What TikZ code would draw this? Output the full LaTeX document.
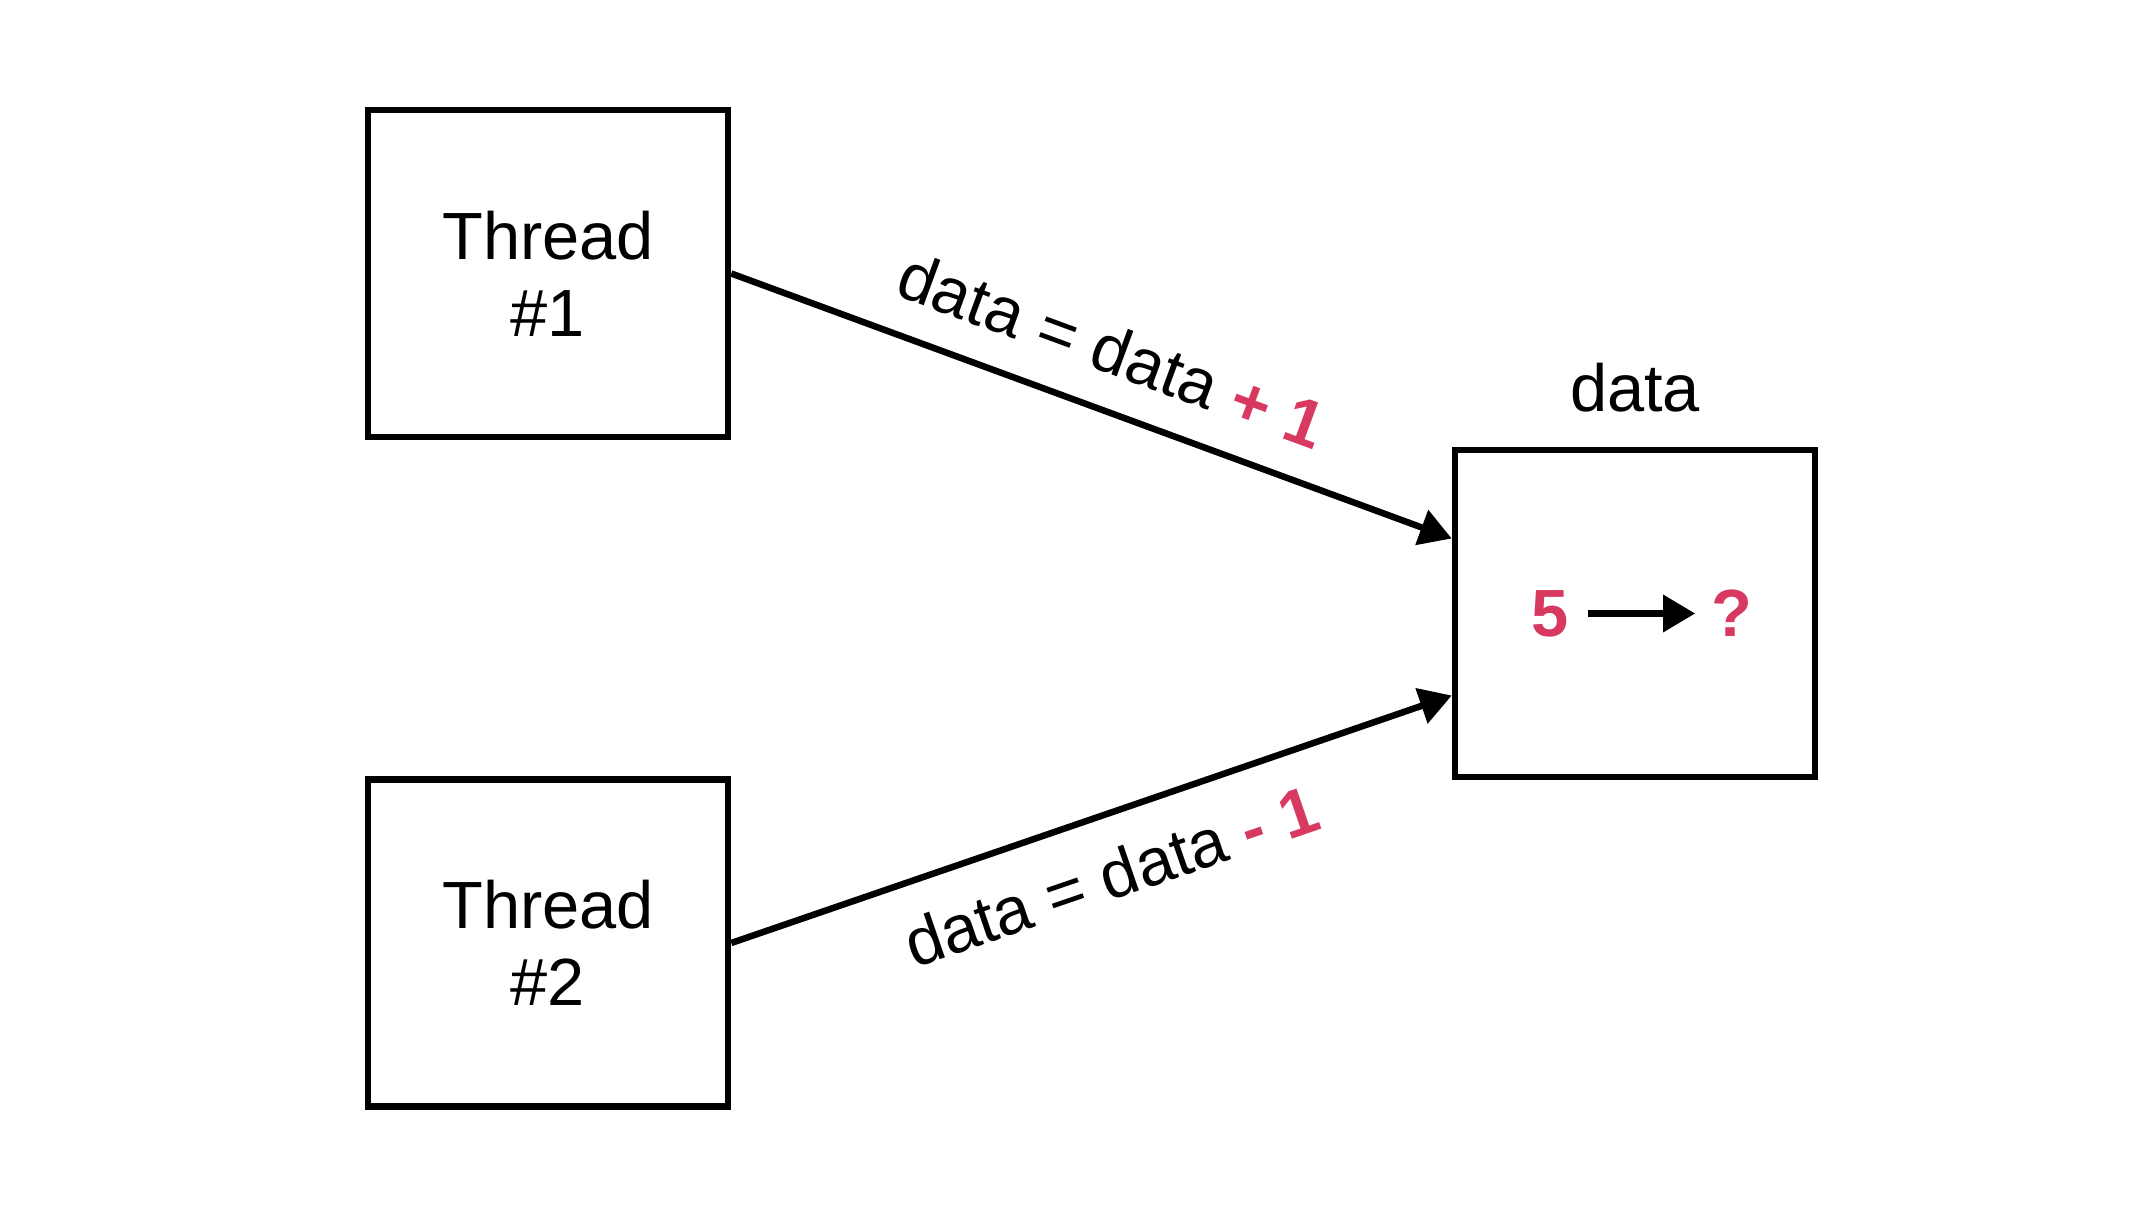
\documentclass[tikz,border=0pt]{standalone}
\usepackage{fontspec}
\setmainfont{Liberation Sans}
\usetikzlibrary{positioning,arrows.meta}
\definecolor{rose}{RGB}{216,57,96}
\tikzset{
    every node/.style={font=\fontsize{19}{22}\selectfont},
    thread/.style={rectangle,draw=black,line width=0.065cm, minimum width=3.6cm, minimum height=3.27cm, align=center},
    val/.style={text=rose, font=\fontsize{19}{22}\selectfont\bfseries},
    lbl/.style={midway, sloped, inner sep=0.22cm},
    tip/.style={-{Triangle[length=0.32cm,width=0.36cm]}, line width=0.065cm}
}
\begin{document}
\begin{tikzpicture}
    \useasboundingbox (0,0) rectangle (21.5,12.26);
    \node[thread] (t1) at (5.48,9.525) {Thread\\\#1};
    \node[thread, below=3.36cm of t1] (t2) {Thread\\\#2};
    \node[thread] (data) at (16.35,6.125) {};
    \node[above=0.34cm of data, inner sep=0] (dname) {data};
    \node[val] (old) at ([xshift=-0.85cm]data.center) {5};
    \node[val] (new) at ([xshift=0.97cm]data.center) {?};
    \draw[tip, shorten <=0.07cm, shorten >=0.04cm] (old) -- (new);
    \draw[tip] (t1.east) -- ([yshift=0.75cm]data.west)
        node[lbl, above=0.1cm, pos=0.5] {data = data {\color{rose}\bfseries + 1}};
    \draw[tip] (t2.east) -- ([yshift=-0.82cm]data.west)
        node[lbl, below=0.1cm, pos=0.5] {data = data {\color{rose}\bfseries - 1}};
\end{tikzpicture}
\end{document}
